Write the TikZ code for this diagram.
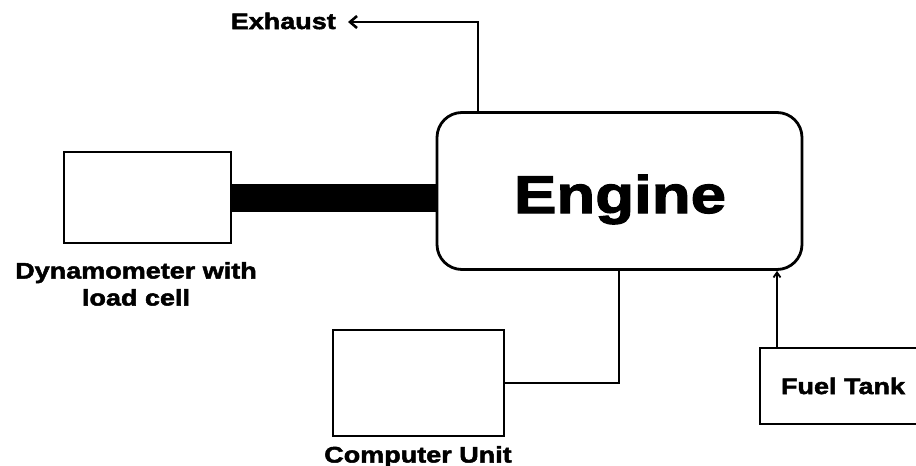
\documentclass[tikz,border=0pt]{standalone}
\usepackage{fontspec}
\newfontfamily\lab[FakeStretch=1.2,FakeBold=2.2]{Liberation Sans Bold}
\usetikzlibrary{arrows.meta}
\begin{document}
\begin{tikzpicture}[x=1pt,y=-1pt,
  box/.style={draw,line width=2.8pt,inner sep=0pt},
  conn/.style={line width=2.8pt},
  lbl/.style={font=\lab\fontsize{22.5}{27}\selectfont,inner sep=0pt,align=center}]
\useasboundingbox (0,0) rectangle (916,466);
\clip (0,0) rectangle (916,466);
\fill[white] (0,0) rectangle (916,466);
% boxes
\node[box,minimum width=167pt,minimum height=91pt] (dyn) at (147.5,197.5) {};
\node[box,rounded corners=25pt,minimum width=365pt,minimum height=157pt] (engine) at (619.5,191) {};
\node[font=\lab\fontsize{53}{60}\selectfont,inner sep=0pt,anchor=base] (engtxt) at (620,213) {Engine};
\node[box,minimum width=166pt,minimum height=76pt,lbl] (fuel) at (843,386) {Fuel Tank};
\node[box,minimum width=171pt,minimum height=106pt] (comp) at (418.5,383) {};
% labels
\node[lbl,anchor=north] (dynlbl) at (136,262) {Dynamometer with\\load cell};
\node[lbl,anchor=north] (complbl) at (418,446) {Computer Unit};
\node[lbl,anchor=east] (exh) at (336,21) {Exhaust};
% shaft
\draw[line width=28pt] (dyn.east) -- (dyn.east -| engine.west);
% exhaust
\coordinate (exhc) at (478,22);
\draw[conn,-{Straight Barb[length=7pt,width=12pt,line width=2.6pt]}]
  (engine.north -| exhc) -- (exhc) -- (348,22);
% computer
\coordinate (compc) at (619,383);
\draw[conn] (engine.south -| compc) -- (compc) -- (comp.east);
% fuel
\coordinate (fuelc) at (777,346);
\draw[conn,-{Straight Barb[length=5pt,width=7pt,line width=1.8pt]}]
  (fuel.north -| fuelc) -- (engine.south -| fuelc);
\end{tikzpicture}
\end{document}
